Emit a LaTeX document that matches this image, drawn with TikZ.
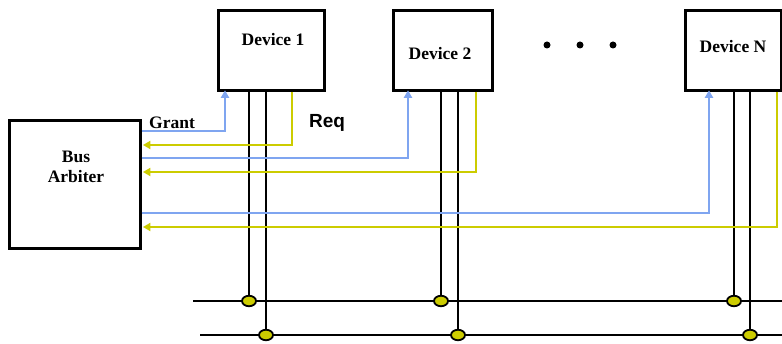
\documentclass[tikz,border=0pt]{standalone}
\usepackage{fontspec}
\setmainfont{Liberation Serif}
\newfontfamily\reqfont{Liberation Sans}
\usetikzlibrary{arrows.meta,shapes.geometric}
\definecolor{gblue}{HTML}{7FA5F0}
\definecolor{ryel}{HTML}{CCCC00}
\begin{document}
\begin{tikzpicture}[x=1pt,y=-1pt,
  box/.style={draw, line width=2.6pt, inner sep=0pt, anchor=north west},
  lbl/.style={font=\bfseries\fontsize{17.5}{21}\selectfont, align=center, inner sep=0pt},
  grant/.style={draw=gblue, line width=2.3pt, -{Triangle[length=7.5pt,width=8pt]}},
  req/.style={draw=ryel, line width=2.3pt, -{Triangle[length=7.5pt,width=8pt]}},
  wire/.style={draw=black, line width=2.6pt},
  busline/.style={draw=black, line width=2.6pt},
  junction/.style={ellipse, draw, fill=ryel, line width=1.8pt, minimum width=14pt, minimum height=10.5pt, inner sep=0pt},
  dot/.style={circle, fill=black, minimum size=7pt, inner sep=0pt}]
\useasboundingbox (0,0) rectangle (782,344);

% boxes
\node[box, minimum width=131pt, minimum height=128pt] (arb) at (8,119) {};
\node[box, minimum width=106pt, minimum height=80pt] (dev1) at (217,9) {};
\node[box, minimum width=99pt, minimum height=80pt] (dev2) at (392,9) {};
\node[box, minimum width=96pt, minimum height=80pt] (devN) at (684,9) {};

% labels
\node[lbl] (arbt) at (76,167) {Bus\\[-1pt]Arbiter};
\node[lbl] (d1t) at (273,40) {Device 1};
\node[lbl] (d2t) at (440,54) {Device 2};
\node[lbl] (dNt) at (733,47) {Device N};
\node[lbl, anchor=south west] (grantt) at (149,129) {Grant};
\node[font=\reqfont\bfseries\fontsize{19}{22}\selectfont, inner sep=0pt] (reqt) at (327,123) {Req};

% dots
\node[dot] (p1) at (547,45) {};
\node[dot] (p2) at (580,45) {};
\node[dot] (p3) at (613,45) {};

% bus lines
\coordinate (b1s) at (193,301);
\coordinate (b1e) at (782,301);
\coordinate (b2s) at (200,335);
\coordinate (b2e) at (782,335);
\draw[busline] (b1s) -- (b1e);
\draw[busline] (b2s) -- (b2e);

% junctions
\node[junction] (j1a) at (249,301) {};
\node[junction] (j1b) at (266,335) {};
\node[junction] (j2a) at (441,301) {};
\node[junction] (j2b) at (458,335) {};
\node[junction] (jNa) at (734,301) {};
\node[junction] (jNb) at (750,335) {};

% device wires
\draw[wire] (dev1.south -| j1a) -- (j1a.north);
\draw[wire] (dev1.south -| j1b) -- (j1b.north);
\draw[wire] (dev2.south -| j2a) -- (j2a.north);
\draw[wire] (dev2.south -| j2b) -- (j2b.north);
\draw[wire] (devN.south -| jNa) -- (jNa.north);
\draw[wire] (devN.south -| jNb) -- (jNb.north);

% grant / request coordinates
\coordinate (g1) at (225,131);
\coordinate (r1) at (292,145);
\coordinate (g2) at (408,158);
\coordinate (r2) at (476,172);
\coordinate (gN) at (709,213);
\coordinate (rN) at (777,227);

\draw[grant] (arb.east |- g1) -- (g1) -- ([yshift=1.3pt]dev1.south -| g1);
\draw[req] (dev1.south -| r1) -- (r1) -- ([xshift=1.3pt]arb.east |- r1);
\draw[grant] (arb.east |- g2) -- (g2) -- ([yshift=1.3pt]dev2.south -| g2);
\draw[req] (dev2.south -| r2) -- (r2) -- ([xshift=1.3pt]arb.east |- r2);
\draw[grant] (arb.east |- gN) -- (gN) -- ([yshift=1.3pt]devN.south -| gN);
\draw[req] (devN.south -| rN) -- (rN) -- ([xshift=1.3pt]arb.east |- rN);
\end{tikzpicture}
\end{document}
